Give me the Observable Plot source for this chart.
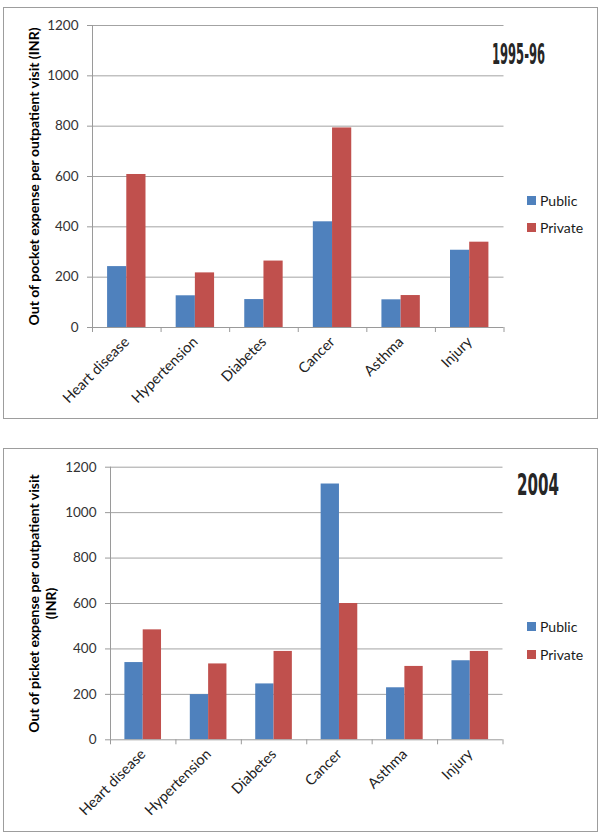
<!DOCTYPE html>
<html>
<head>
<meta charset="utf-8">
<script src="https://cdn.jsdelivr.net/npm/d3@7"></script>
<script src="https://cdn.jsdelivr.net/npm/@observablehq/plot@0.6"></script>
<style>
  body { margin: 0; background: #fff; }
  #page { position: relative; width: 600px; height: 837px; overflow: hidden; font-family: Lato, "Open Sans", sans-serif; }
  .frame { position: absolute; border: 1.5px solid #9d9d9d; box-sizing: border-box; }
  .chart { position: absolute; left: 0; }
  .chart svg { overflow: visible; }
  .legend { position: absolute; font-size: 14px; color: #1a1a1a; }
  .legend .item { position: absolute; left: 0; white-space: nowrap; display: flex; align-items: center; height: 16px; }
  .legend .sw { width: 9px; height: 9px; margin-right: 4px; display: inline-block; }
  .title { position: absolute; font-family: "Liberation Sans Narrow", "DejaVu Sans Condensed", "Liberation Sans", sans-serif; font-weight: bold; color: #262626; white-space: nowrap; transform-origin: 0 50%; }
</style>
</head>
<body>
<div id="page"></div>
<script>
// ---- data ----
const categories = ["Heart disease", "Hypertension", "Diabetes", "Cancer", "Asthma", "Injury"];
const seriesNames = ["Public", "Private"];
const seriesColors = ["#4F81BD", "#C0504D"];
const public1995 = [242, 126, 111, 420, 110, 307];
const private1995 = [608, 217, 264, 793, 127, 339];
const public2004 = [340, 199, 246, 1126, 229, 348];
const private2004 = [484, 334, 389, 600, 323, 389];
const yTicks = [0, 200, 400, 600, 800, 1000, 1200];
const title1 = "1995-96";
const title2 = "2004";
const yLabel1 = "Out of pocket expense per outpatient visit (INR)";
const yLabel2 = "Out of picket expense per outpatient visit\n(INR)";

const page = document.getElementById("page");
const BW = 0.28; // bar width as fraction of category band

function rowsOf(pub, priv) {
  return categories.flatMap((c, i) => [
    {cat: c, i, series: "Public", value: pub[i]},
    {cat: c, i, series: "Private", value: priv[i]}
  ]);
}

function makeChart(o) {
  const rows = rowsOf(o.pub, o.priv);
  const svg = Plot.plot({
    width: 600,
    height: o.height,
    marginLeft: o.ml, marginRight: o.mr, marginTop: o.mt, marginBottom: o.mb,
    style: {fontFamily: "Lato, 'Open Sans', sans-serif", fontSize: "13px", background: "transparent", color: "#222"},
    x: {type: "linear", domain: [0, categories.length], axis: null},
    y: {domain: [0, 1200], axis: null},
    color: {domain: seriesNames, range: seriesColors},
    marks: [
      Plot.gridY({ticks: yTicks.filter(v => v > 0), stroke: "#a3a3a3", strokeOpacity: 1, strokeWidth: 1}),
      Plot.rect(rows, {
        x1: d => d.i + (d.series === "Public" ? 0.5 - BW : 0.5),
        x2: d => d.i + (d.series === "Public" ? 0.5 : 0.5 + BW),
        y1: () => 0,
        y2: "value",
        fill: "series"
      }),
      Plot.ruleX([0], {stroke: "#9a9a9a"}),
      Plot.ruleY([0], {stroke: "#9a9a9a"}),
      Plot.axisY({ticks: yTicks, tickFormat: d => String(d), tickSize: 5, tickPadding: 9, stroke: "#9a9a9a", fill: "#333", fontSize: 13.5, label: null}),
      Plot.axisX({ticks: d3.range(categories.length + 1), tickFormat: () => "", tickSize: 5, stroke: "#9a9a9a", label: null}),
      Plot.axisX({ticks: d3.range(categories.length).map(i => i + 0.5), tickFormat: v => categories[Math.floor(v)],
                  tickSize: 0, tickPadding: o.xPad, tickRotate: -45, fill: "#222", fontSize: 14.5, label: null}),
      Plot.text([o.ylabel], {frameAnchor: "left", text: d => d, rotate: -90, dx: o.labelDx, textAnchor: "middle",
                  fontWeight: "bold", fontSize: 14, fill: "#000", lineHeight: 1.25})
    ]
  });
  const wrap = document.createElement("div");
  wrap.className = "chart";
  wrap.style.top = o.top + "px";
  wrap.appendChild(svg);
  page.appendChild(wrap);
}

function addFrame(l, t, w, h) {
  const f = document.createElement("div");
  f.className = "frame";
  Object.assign(f.style, {left: l + "px", top: t + "px", width: w + "px", height: h + "px"});
  page.appendChild(f);
}

function addLegend(left, yCenters) {
  const lg = document.createElement("div");
  lg.className = "legend";
  lg.style.left = left + "px";
  lg.style.top = "0px";
  seriesNames.forEach((s, k) => {
    const it = document.createElement("div");
    it.className = "item";
    it.style.top = (yCenters[k] - 8) + "px";
    const sw = document.createElement("span");
    sw.className = "sw";
    sw.style.background = seriesColors[k];
    it.appendChild(sw);
    it.appendChild(document.createTextNode(s));
    lg.appendChild(it);
  });
  page.appendChild(lg);
}

function addTitle(text, left, yCenter, fontSize, targetWidth) {
  const t = document.createElement("div");
  t.className = "title";
  t.textContent = text;
  Object.assign(t.style, {left: left + "px", top: (yCenter - fontSize / 2) + "px", fontSize: fontSize + "px", lineHeight: fontSize + "px"});
  page.appendChild(t);
  const w = t.getBoundingClientRect().width;
  t.style.transform = `scaleX(${targetWidth / w})`;
}

addFrame(3, 7, 594.5, 412);
addFrame(3, 448, 594.5, 383.5);

makeChart({pub: public1995, priv: private1995, top: 0, height: 420, ml: 92, mr: 96.5, mt: 25, mb: 93,
           ylabel: yLabel1, labelDx: -59, xPad: 12});
makeChart({pub: public2004, priv: private2004, top: 420, height: 417, ml: 110, mr: 97.5, mt: 46.7, mb: 97.7,
           ylabel: yLabel2, labelDx: -68.5, xPad: 12});

addLegend(527, [200, 227]);
addLegend(527, [626, 654]);

addTitle(title1, 492, 55, 28, 53);
addTitle(title2, 517, 485, 30, 42);
</script>
</body>
</html>
